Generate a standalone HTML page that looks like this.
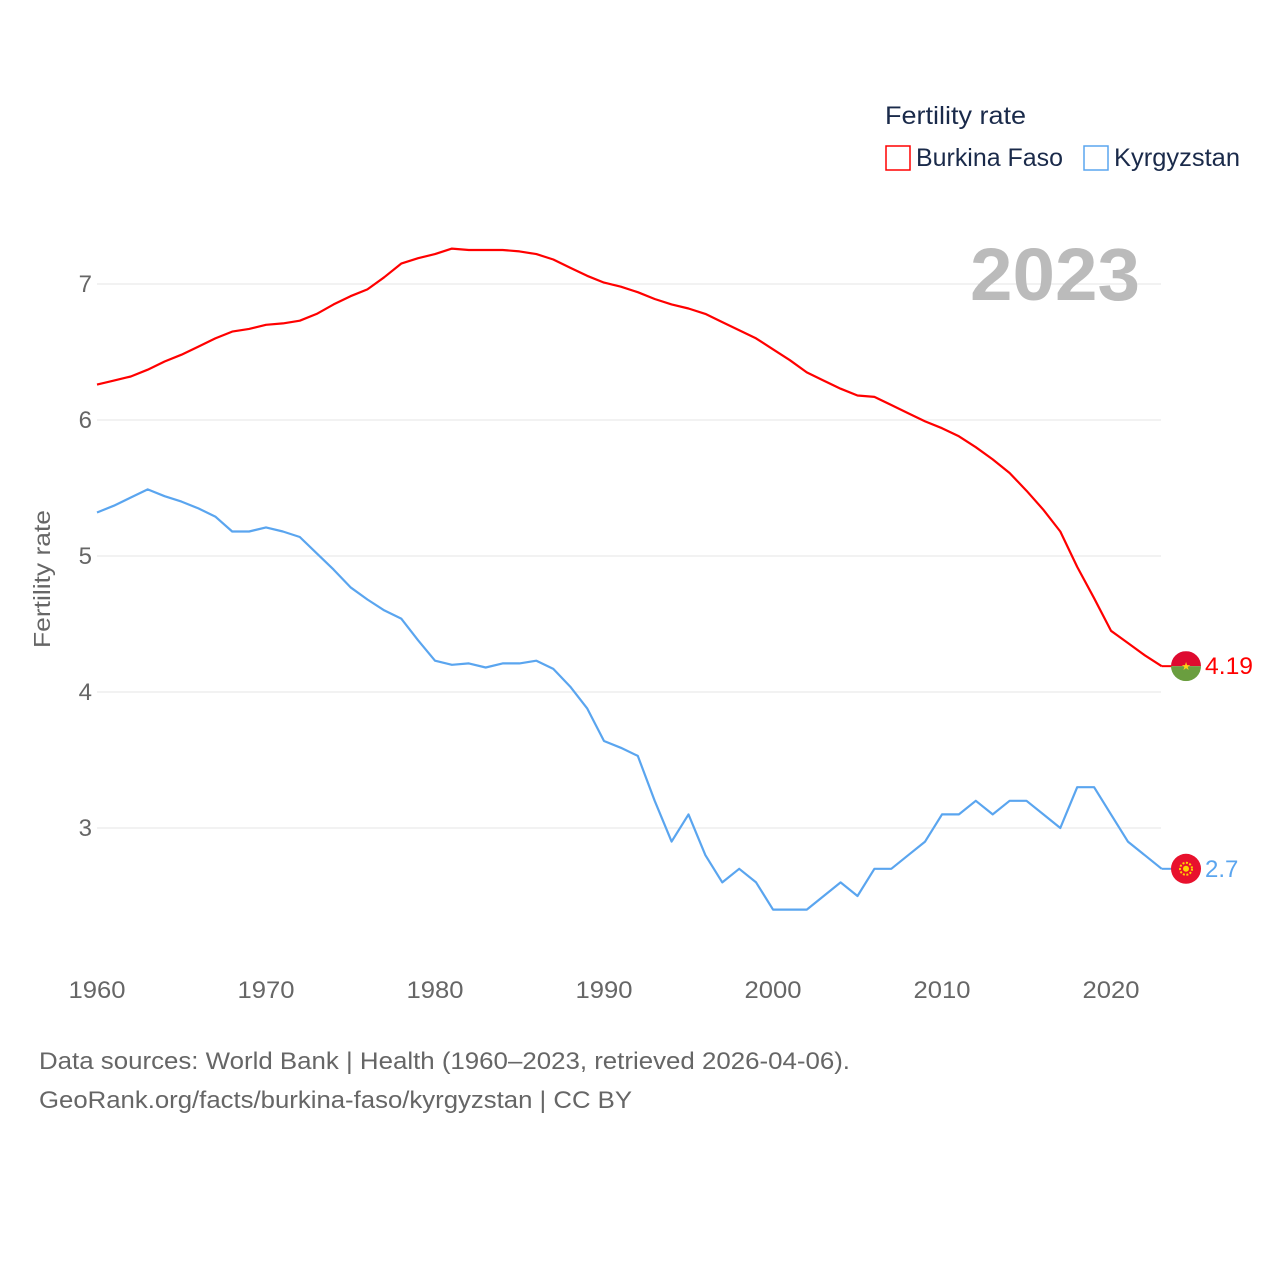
<!DOCTYPE html>
<html><head><meta charset="utf-8"><style>
body{margin:0;background:#fff;font-family:"Liberation Sans",sans-serif}
svg text{font-family:"Liberation Sans",sans-serif}
</style></head><body>
<svg id="chart" width="1280" height="1280" xmlns="http://www.w3.org/2000/svg">
<g id="grid"></g>
<g id="yticks"></g>
<g id="xticks"></g>
<text transform="translate(50,579) rotate(-90)" text-anchor="middle" font-size="23" fill="#666" textLength="138" lengthAdjust="spacingAndGlyphs">Fertility rate</text>
<text x="1140" y="300" text-anchor="end" font-size="74" font-weight="bold" fill="#bbb" textLength="170" lengthAdjust="spacingAndGlyphs">2023</text>
<g>
<text x="885" y="124" font-size="25" fill="#1a2a4a" textLength="141" lengthAdjust="spacingAndGlyphs">Fertility rate</text>
<rect x="886" y="146" width="24" height="24" fill="none" stroke="#f00" stroke-width="1.5"/>
<text x="916" y="166" font-size="25" fill="#1a2a4a" textLength="147" lengthAdjust="spacingAndGlyphs">Burkina Faso</text>
<rect x="1084" y="146" width="24" height="24" fill="none" stroke="#5aa5ef" stroke-width="1.5"/>
<text x="1114" y="166" font-size="25" fill="#1a2a4a" textLength="126" lengthAdjust="spacingAndGlyphs">Kyrgyzstan</text>
</g>
<g id="series"></g>
<text x="39" y="1069" font-size="24" fill="#666" textLength="811" lengthAdjust="spacingAndGlyphs">Data sources: World Bank | Health (1960–2023, retrieved 2026-04-06).</text>
<text x="39" y="1108" font-size="24" fill="#666" textLength="593" lengthAdjust="spacingAndGlyphs">GeoRank.org/facts/burkina-faso/kyrgyzstan | CC BY</text>
</svg>
<script>
const startYear = 1960;
const burkina = [6.26,6.29,6.32,6.37,6.43,6.48,6.54,6.60,6.65,6.67,6.70,6.71,6.73,6.78,6.85,6.91,6.96,7.05,7.15,7.19,7.22,7.26,7.25,7.25,7.25,7.24,7.22,7.18,7.12,7.06,7.01,6.98,6.94,6.89,6.85,6.82,6.78,6.72,6.66,6.60,6.52,6.44,6.35,6.29,6.23,6.18,6.17,6.11,6.05,5.99,5.94,5.88,5.80,5.71,5.61,5.48,5.34,5.18,4.92,4.69,4.45,4.36,4.27,4.19];
const kyrgyz = [5.32,5.37,5.43,5.49,5.44,5.40,5.35,5.29,5.18,5.18,5.21,5.18,5.14,5.02,4.90,4.77,4.68,4.60,4.54,4.38,4.23,4.20,4.21,4.18,4.21,4.21,4.23,4.17,4.04,3.88,3.64,3.59,3.53,3.2,2.9,3.1,2.8,2.6,2.7,2.6,2.4,2.4,2.4,2.5,2.6,2.5,2.7,2.7,2.8,2.9,3.1,3.1,3.2,3.1,3.2,3.2,3.1,3.0,3.3,3.3,3.1,2.9,2.8,2.7];
const yTicks = [3,4,5,6,7];
const xTicks = [1960,1970,1980,1990,2000,2010,2020];
const labelBF = "4.19";
const labelKG = "2.7";

const NS="http://www.w3.org/2000/svg";
const xs = yr => 97 + (yr-1960)*(1111-97)/60;
const ys = v => 284 + (7-v)*136;
function mk(tag, attrs, parent){const e=document.createElementNS(NS,tag);for(const k in attrs)e.setAttribute(k,attrs[k]);parent.appendChild(e);return e;}
const grid=document.getElementById('grid'), yt=document.getElementById('yticks'), xt=document.getElementById('xticks'), ser=document.getElementById('series');
yTicks.forEach(v=>{
  const l=mk('line',{x1:97,x2:1161,y1:ys(v),y2:ys(v),stroke:'#e6e6e6','stroke-width':1},grid);
  
  
  const t=mk('text',{x:92,y:ys(v)+8,'text-anchor':'end','font-size':24,fill:'#666'},yt);
  t.textContent=v;
  
  
});
xTicks.forEach(yr=>{
  const t=mk('text',{x:xs(yr),y:998,'text-anchor':'middle','font-size':24,fill:'#666',textLength:57,lengthAdjust:'spacingAndGlyphs'},xt);
  t.textContent=yr;
  
  
});
function line(data,color,name){
  const pts=data.map((v,i)=>xs(startYear+i).toFixed(1)+','+ys(v).toFixed(1)).join(' ');
  const p=mk('polyline',{points:pts,fill:'none',stroke:color,'stroke-width':2.2,'stroke-linejoin':'round'},ser);
  
  
  const last=data[data.length-1];
  const c=mk('line',{x1:xs(startYear+data.length-1),x2:1172,y1:ys(last),y2:ys(last),stroke:color,'stroke-width':2},ser);
  
  
}
line(burkina,'#ff0000','line-burkina-faso');
line(kyrgyz,'#5aa5ef','line-kyrgyzstan');
const bfY=ys(burkina[burkina.length-1]), kgY=ys(kyrgyz[kyrgyz.length-1]);
const fb=mk('g',{},ser);


const cp=mk('clipPath',{id:'cbf'},fb);
mk('circle',{cx:1186,cy:bfY,r:15},cp);
mk('rect',{x:1171,y:bfY-15,width:30,height:15,fill:'#de0a2f','clip-path':'url(#cbf)'},fb);
mk('rect',{x:1171,y:bfY,width:30,height:15,fill:'#6a9e3f','clip-path':'url(#cbf)'},fb);
mk('text',{x:1186,y:bfY+4,'text-anchor':'middle','font-size':11,fill:'#fcd116'},fb).textContent='★';
const fk=mk('g',{},ser);


mk('circle',{cx:1186,cy:kgY,r:15,fill:'#e8112d'},fk);
mk('circle',{cx:1186,cy:kgY,r:6,fill:'none',stroke:'#ffd200','stroke-width':2,'stroke-dasharray':'2 1.5'},fk);
mk('circle',{cx:1186,cy:kgY,r:3,fill:'#ffd200'},fk);
const vb=mk('text',{x:1205,y:bfY+8,'font-size':24,fill:'#ff0000',textLength:48,lengthAdjust:'spacingAndGlyphs'},ser);
vb.textContent=labelBF;


const vk=mk('text',{x:1205,y:kgY+8,'font-size':24,fill:'#5aa5ef'},ser);
vk.textContent=labelKG;


</script>
</body></html>
